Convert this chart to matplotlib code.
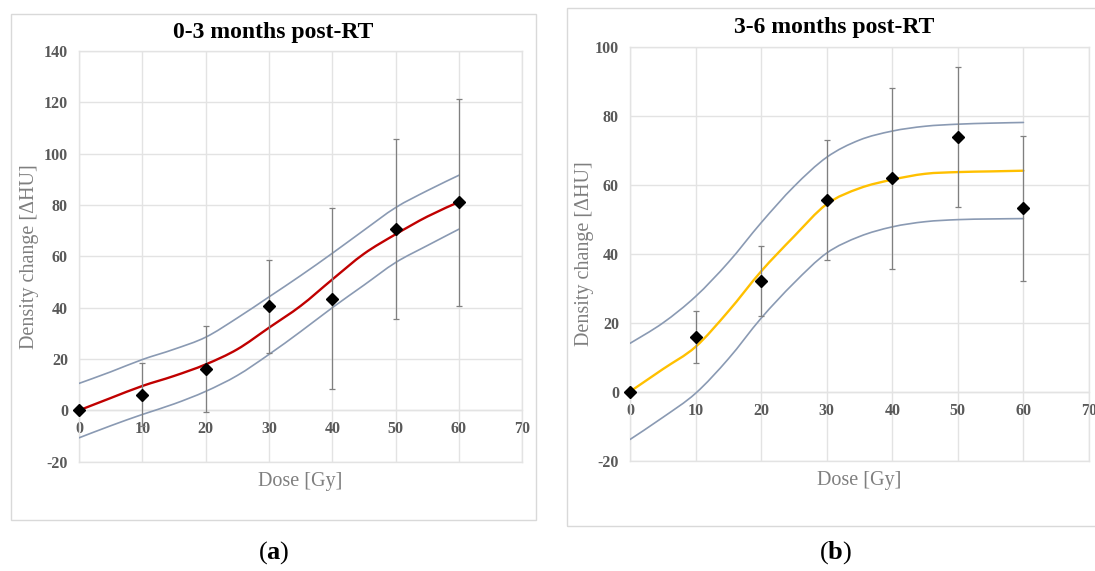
import matplotlib
matplotlib.use("Agg")
import matplotlib.pyplot as plt
from matplotlib.path import Path
from matplotlib.patches import PathPatch, Rectangle
import numpy as np

plt.rcParams['font.family'] = ['Liberation Serif', 'DejaVu Serif']
plt.rcParams['mathtext.fontset'] = 'custom'
plt.rcParams['mathtext.rm'] = 'Liberation Serif'
plt.rcParams['mathtext.bf'] = 'Liberation Serif:bold'
plt.rcParams['axes.unicode_minus'] = False

# ---------------- data ----------------
dose = [0, 10, 20, 30, 40, 50, 60]

mean_a = [0, 6.1, 16.2, 40.5, 43.5, 70.7, 81.0]
err_a = [0, 12.2, 16.8, 18.0, 35.3, 35.1, 40.3]

mean_b = [0, 15.9, 32.0, 55.7, 61.9, 73.9, 53.2]
err_b = [0, 7.5, 10.2, 17.4, 26.2, 20.4, 21.0]

fit_dose = [0, 5, 10, 15, 20, 25, 30, 35, 40, 45, 50, 55, 60]
fit_a = [0, 4.8, 9.5, 13.4, 17.9, 23.8, 32.2, 40.7, 51.0, 61.0, 68.6, 75.5, 81.2]
upper_a = [10.5, 15.0, 19.8, 23.8, 28.5, 36.0, 44.2, 52.5, 61.2, 70.2, 79.0, 85.6, 91.6]
lower_a = [-10.7, -6.0, -1.6, 2.5, 7.4, 13.6, 21.8, 30.7, 40.0, 48.8, 57.6, 64.2, 70.6]

fit_b = [0, 6.5, 13.0, 23.3, 34.9, 45.0, 54.4, 59.0, 61.5, 63.2, 63.7, 63.9, 64.1]
upper_b = [14.0, 19.9, 27.6, 37.5, 49.0, 59.5, 68.0, 73.0, 75.6, 77.0, 77.6, 77.9, 78.1]
lower_b = [-13.9, -7.5, -0.5, 9.5, 21.3, 31.5, 40.2, 45.0, 47.8, 49.3, 49.9, 50.1, 50.2]

titles = ["0-3 months post-RT", "3-6 months post-RT"]
xlabel = "Dose [Gy]"
ylabel = "Density change [\u0394HU]"
xticks = [0, 10, 20, 30, 40, 50, 60, 70]
yticks_a = [-20, 0, 20, 40, 60, 80, 100, 120, 140]
yticks_b = [-20, 0, 20, 40, 60, 80, 100]
captions = ["a", "b"]

# ---------------- style ----------------
W, H = 1095, 571
GRID = "#e3e3e3"
FRAME = "#d9d9d9"
TICKC = "#595959"
BAND = "#8a9ab3"
ERRC = "#808080"


def smooth_path(x, y):
    x = np.asarray(x, float)
    y = np.asarray(y, float)
    n = len(x)
    verts = [(x[0], y[0])]
    codes = [Path.MOVETO]
    for i in range(n - 1):
        p0 = np.array([x[max(i - 1, 0)], y[max(i - 1, 0)]])
        p1 = np.array([x[i], y[i]])
        p2 = np.array([x[i + 1], y[i + 1]])
        p3 = np.array([x[min(i + 2, n - 1)], y[min(i + 2, n - 1)]])
        c1 = p1 + (p2 - p0) / 6.0
        c2 = p2 - (p3 - p1) / 6.0
        verts += [tuple(c1), tuple(c2), tuple(p2)]
        codes += [Path.CURVE4] * 3
    return Path(verts, codes)


fig = plt.figure(figsize=(W / 100, H / 100), dpi=100)


def px_axes(x0, y0, x1, y1):
    return fig.add_axes([x0 / W, 1 - y1 / H, (x1 - x0) / W, (y1 - y0) / H])


def panel(ax, mean, err, fit, up, lo, color, yticks, title, title_xy, frame, cap_xy, cap,
          ylab_x, xlab_y):
    fx0, fy0, fx1, fy1 = frame
    fig.patches.append(Rectangle((fx0 / W, 1 - fy1 / H), (fx1 - fx0) / W, (fy1 - fy0) / H,
                                 transform=fig.transFigure, fill=False, edgecolor=FRAME,
                                 linewidth=1.0))
    ax.set_xlim(0, 70)
    ax.set_ylim(yticks[0], yticks[-1])
    ax.set_xticks(xticks)
    ax.set_yticks(yticks)
    ax.grid(True, color=GRID, linewidth=1.0)
    ax.set_axisbelow(True)
    for s in ["left", "right", "top"]:
        ax.spines[s].set_color(GRID)
        ax.spines[s].set_linewidth(1.0)
    ax.spines["bottom"].set_position(("data", 0))
    ax.spines["bottom"].set_color(GRID)
    ax.spines["bottom"].set_linewidth(1.0)
    ax.axhline(yticks[0], color=GRID, linewidth=1.0, clip_on=False, zorder=0.5)
    ax.tick_params(axis="both", length=0, labelcolor=TICKC, labelsize=11.5)
    ax.tick_params(axis="y", pad=8)
    ax.tick_params(axis="x", pad=8)
    for lab in ax.get_xticklabels() + ax.get_yticklabels():
        lab.set_fontweight("bold")

    for arr, c, lw in [(up, BAND, 1.2), (lo, BAND, 1.2), (fit, color, 1.7)]:
        ax.add_patch(PathPatch(smooth_path(fit_dose, arr), facecolor="none", edgecolor=c,
                               linewidth=lw, zorder=3, capstyle="round"))
    ax.errorbar(dose, mean, yerr=err, fmt="none", ecolor=ERRC, elinewidth=0.9,
                capsize=2.2, capthick=0.9, zorder=4)
    ax.plot(dose, mean, linestyle="none", marker="D", markersize=6.5, color="black",
            zorder=5, clip_on=False)

    fig.text(title_xy[0] / W, 1 - title_xy[1] / H, title, ha="center", va="center",
             fontsize=17, fontweight="bold", color="black")
    pos = ax.get_position()
    fig.text(ylab_x / W, pos.y0 + pos.height / 2, ylabel, rotation=90, ha="center",
             va="center", fontsize=14.5, color="#7f7f7f")
    fig.text(pos.x0 + pos.width / 2, 1 - xlab_y / H, xlabel, ha="center", va="center",
             fontsize=14.5, color="#7f7f7f")
    fig.text(cap_xy[0] / W, 1 - cap_xy[1] / H, r"($\mathbf{" + cap + r"}$)", ha="center",
             va="center", fontsize=19, color="black")


ax_a = px_axes(79, 51, 522.3, 461.7)
panel(ax_a, mean_a, err_a, fit_a, upper_a, lower_a, "#c00000", yticks_a, titles[0],
      (273, 32.5), (10.7, 14, 536, 520), (273.5, 553), captions[0], 30, 481.7)

ax_b = px_axes(630, 47, 1089, 460.5)
panel(ax_b, mean_b, err_b, fit_b, upper_b, lower_b, "#ffc000", yticks_b, titles[1],
      (834.5, 27.5), (567, 8, 1102, 526), (835.5, 553), captions[1], 585, 480)

fig.savefig("out.png", dpi=100)
